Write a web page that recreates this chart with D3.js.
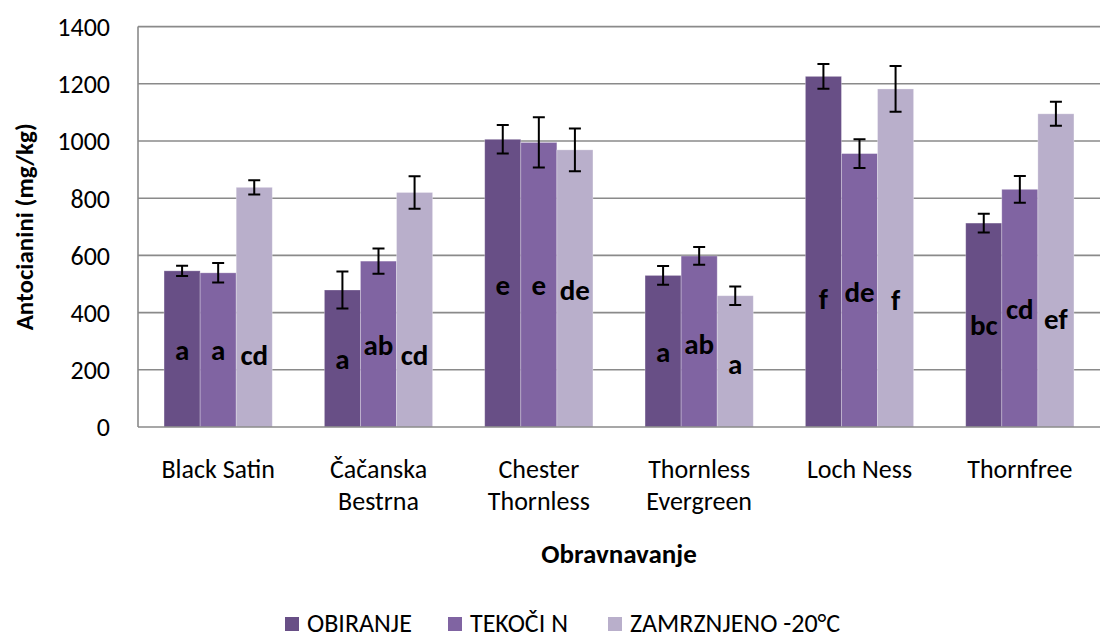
<!DOCTYPE html>
<html>
<head>
<meta charset="utf-8">
<script src="https://cdn.jsdelivr.net/npm/d3@7"></script>
<style>
  body { margin: 0; background: #fff; }
  svg text { font-family: Carlito, Calibri, Lato, sans-serif; fill: #000; }
</style>
</head>
<body>
<script>
// categories and series
var categories = ["Black Satin", "Čačanska Bestrna", "Chester Thornless", "Thornless Evergreen", "Loch Ness", "Thornfree"]
var catLines = [["Black Satin"], ["Čačanska", "Bestrna"], ["Chester", "Thornless"], ["Thornless", "Evergreen"], ["Loch Ness"], ["Thornfree"]]
var seriesNames = ["OBIRANJE", "TEKOČI N", "ZAMRZNJENO -20°C"]

// mean values (mg/kg)
var obiranje = [546, 479, 1006, 530, 1226, 713]
var tekoci = [539, 580, 995, 598, 956, 831]
var zamrznjeno = [838, 820, 969, 459, 1182, 1095]

// error bar half-lengths
var errObiranje = [18, 65, 50, 33, 43, 33]
var errTekoci = [34, 44, 88, 31, 50, 47]
var errZamrznjeno = [25, 57, 75, 32, 80, 42]

// significance letters and the value level where each sits
var lettersOb = ["a", "a", "e", "a", "f", "bc"]
var lettersTe = ["a", "ab", "e", "ab", "de", "cd"]
var lettersZa = ["cd", "cd", "de", "a", "f", "ef"]
var labelOb = [263, 234, 491, 258, 444, 351]
var labelTe = [263, 281, 491, 287, 468, 409]
var labelZa = [246, 248, 473, 217, 438, 374]

var yTicks = [0, 200, 400, 600, 800, 1000, 1200, 1400]

var colors = ["#684f86", "#8064a2", "#b9afcb"]

var W = 1101, H = 639
var plot = {left: 138, right: 1100, top: 26.6, bottom: 427}
var fs = 26  // base font size

var values = [obiranje, tekoci, zamrznjeno]
var errs = [errObiranje, errTekoci, errZamrznjeno]
var letters = [lettersOb, lettersTe, lettersZa]
var labelAt = [labelOb, labelTe, labelZa]

var rows = []
categories.forEach(function(c, i) {
  seriesNames.forEach(function(s, j) {
    rows.push({cat: c, ser: s, j: j, v: values[j][i], e: errs[j][i], lab: letters[j][i], la: labelAt[j][i]})
  })
})

var svg = d3.select('body').append('svg')
  .attr('width', W).attr('height', H)

var x0 = d3.scaleBand()
  .domain(categories)
  .range([plot.left, plot.right])
  .paddingInner(0.325)
  .paddingOuter(0.1625)
var x1 = d3.scaleBand()
  .domain(seriesNames)
  .range([0, x0.bandwidth()])
var y = d3.scaleLinear()
  .domain([0, 1400])
  .range([plot.bottom, plot.top])

// gridlines
svg.append('g').selectAll('line').data(yTicks.slice(1)).enter()
  .append('line')
  .attr('x1', plot.left).attr('x2', plot.right)
  .attr('y1', function(d) { return y(d) }).attr('y2', function(d) { return y(d) })
  .attr('stroke', '#8a8a8a').attr('stroke-width', 1.6)

// y axis labels
var yAxis = d3.axisLeft(y).tickValues(yTicks).tickFormat(d3.format('d')).tickSize(0).tickPadding(28)
var yg = svg.append('g')
  .attr('transform', 'translate(' + plot.left + ',0)')
  .call(yAxis)
yg.select('.domain').remove()
yg.selectAll('text').style('font-size', fs + 'px').attr('dy', '0.34em')

// bars
var bars = svg.append('g').selectAll('g').data(rows).enter().append('g')
  .attr('transform', function(d) { return 'translate(' + (x0(d.cat) + x1(d.ser)) + ',0)' })

bars.append('rect')
  .attr('x', 0)
  .attr('width', x1.bandwidth())
  .attr('y', function(d) { return y(d.v) })
  .attr('height', function(d) { return y(0) - y(d.v) })
  .attr('fill', function(d) { return colors[d.j] })
  .attr('stroke', '#ffffff').attr('stroke-opacity', 0.35).attr('stroke-width', 0.8)

// error bars
var cw = 6
bars.append('path')
  .attr('d', function(d) {
    var cx = x1.bandwidth() / 2, t = y(d.v + d.e), b = y(d.v - d.e)
    return 'M' + cx + ',' + t + 'V' + b +
      'M' + (cx - cw) + ',' + t + 'H' + (cx + cw) +
      'M' + (cx - cw) + ',' + b + 'H' + (cx + cw)
  })
  .attr('stroke', '#000').attr('stroke-width', 2).attr('fill', 'none')

// letters
bars.append('text')
  .attr('x', x1.bandwidth() / 2)
  .attr('y', function(d) { return y(d.la) })
  .attr('dy', '0.3em')
  .attr('text-anchor', 'middle')
  .style('font-size', (fs + 3) + 'px')
  .style('font-weight', 'bold')
  .text(function(d) { return d.lab })

// axis lines
svg.append('line')
  .attr('x1', plot.left).attr('x2', plot.left)
  .attr('y1', plot.top).attr('y2', plot.bottom)
  .attr('stroke', '#8a8a8a').attr('stroke-width', 1.6)
svg.append('line')
  .attr('x1', plot.left).attr('x2', plot.right)
  .attr('y1', plot.bottom).attr('y2', plot.bottom)
  .attr('stroke', '#8a8a8a').attr('stroke-width', 1.6)

// category labels
var cl = svg.append('g').selectAll('text').data(categories).enter()
  .append('text')
  .attr('text-anchor', 'middle')
  .attr('transform', function(d) { return 'translate(' + (x0(d) + x0.bandwidth() / 2) + ',478)' })
  .style('font-size', fs + 'px')
cl.selectAll('tspan').data(function(d, i) { return catLines[i] }).enter()
  .append('tspan')
  .attr('x', 0)
  .attr('y', function(d, i) { return i * 32 })
  .text(function(d) { return d })

// axis titles
svg.append('text')
  .attr('x', (plot.left + plot.right) / 2).attr('y', 563)
  .attr('text-anchor', 'middle')
  .style('font-size', (fs + 1) + 'px').style('font-weight', 'bold')
  .text('Obravnavanje')
svg.append('text')
  .attr('transform', 'translate(33,' + ((plot.top + plot.bottom) / 2) + ') rotate(-90)')
  .attr('text-anchor', 'middle')
  .style('font-size', (fs - 1) + 'px').style('font-weight', 'bold')
  .text('Antocianini (mg/kg)')

// legend
var legX = [285, 448, 608]
var leg = svg.append('g').selectAll('g').data(seriesNames).enter().append('g')
  .attr('transform', function(d, i) { return 'translate(' + legX[i] + ',617)' })
leg.append('rect').attr('width', 14).attr('height', 14)
  .attr('fill', function(d, i) { return colors[i] })
leg.append('text').attr('x', 22).attr('y', 14.5)
  .style('font-size', fs + 'px')
  .text(function(d) { return d })
</script>
</body>
</html>
